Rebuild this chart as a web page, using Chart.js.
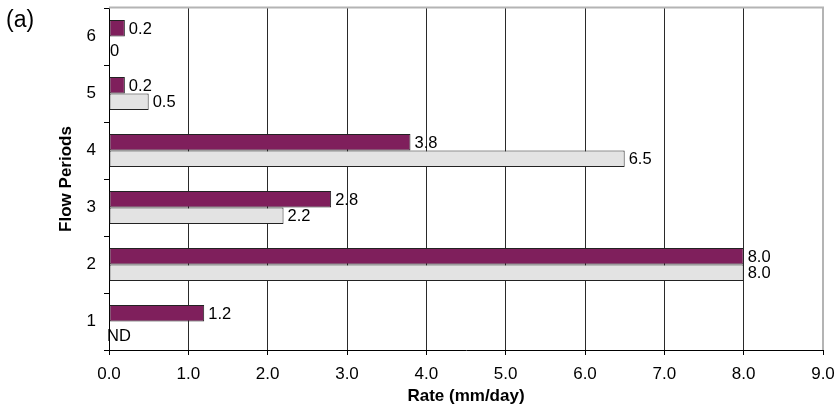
<!DOCTYPE html>
<html>
<head>
<meta charset="utf-8">
<script src="https://cdn.jsdelivr.net/npm/chart.js@4/dist/chart.umd.min.js"></script>
<style>
  html, body { margin: 0; padding: 0; background: #fff; }
  #wrap { width: 839px; height: 420px; position: relative; }
</style>
</head>
<body>
<div id="wrap"><canvas id="c" width="839" height="420"></canvas></div>
<script>
// Flow periods, bottom (1) to top (6)
const periods = ['1', '2', '3', '4', '5', '6'];
// Series A (purple) rates, mm/day
const seriesA = [1.2, 8.0, 2.8, 3.8, 0.2, 0.2];
const labelsA = ['1.2', '8.0', '2.8', '3.8', '0.2', '0.2'];
// Series B (light grey) rates, mm/day (null = not determined)
const seriesB = [null, 8.0, 2.2, 6.5, 0.5, 0];
const labelsB = ['ND', '8.0', '2.2', '6.5', '0.5', '0'];
// x-axis ticks
const xTicks = [0, 1, 2, 3, 4, 5, 6, 7, 8, 9];

// category axis runs top to bottom, so feed it from 6 down to 1
const cats = periods.slice().reverse();
const dataA = seriesA.slice().reverse();
const dataB = seriesB.slice().reverse();
const labA = labelsA.slice().reverse();
const labB = labelsB.slice().reverse();

const FONT = "'Liberation Sans', Arial, sans-serif";

function zeroPad(scale) {
  scale.paddingTop = 0; scale.paddingBottom = 0;
  scale.paddingLeft = 0; scale.paddingRight = 0;
}

const extras = {
  id: 'extras',
  afterDatasetsDraw(chart) {
    const ctx = chart.ctx;
    const xs = chart.scales.x;
    const sets = [[dataA, labA], [dataB, labB]];
    ctx.save();
    ctx.font = '16.5px ' + FONT;
    ctx.fillStyle = '#000';
    ctx.textAlign = 'left';
    ctx.textBaseline = 'middle';
    sets.forEach(([vals, labs], di) => {
      const meta = chart.getDatasetMeta(di);
      meta.data.forEach((el, i) => {
        const v = vals[i];
        const y = el.y;
        if (v === null || v === 0) {
          const x0 = xs.getPixelForValue(0);
          ctx.fillText(labs[i], v === null ? x0 - 2 : x0 + 1, y + 7);
        } else {
          ctx.fillText(labs[i], xs.getPixelForValue(v) + 4, y + 1);
        }
      });
    });
    ctx.restore();
  },
  afterDraw(chart) {
    const ctx = chart.ctx;
    const a = chart.chartArea;
    ctx.save();
    ctx.strokeStyle = '#b4b4b4';
    ctx.lineWidth = 2;
    ctx.beginPath();
    ctx.moveTo(a.left, a.top - 0.5);
    ctx.lineTo(a.right, a.top - 0.5);
    ctx.lineTo(a.right, a.bottom);
    ctx.stroke();
    ctx.font = '23px ' + FONT;
    ctx.fillStyle = '#000';
    ctx.textAlign = 'left';
    ctx.textBaseline = 'middle';
    ctx.fillText('(a)', 6, 21);
    ctx.restore();
  }
};

new Chart(document.getElementById('c'), {
  type: 'bar',
  data: {
    labels: cats,
    datasets: [
      {
        data: dataA,
        backgroundColor: '#7f1f5c',
        borderColor: '#222',
        borderWidth: 1,
        borderSkipped: false,
        categoryPercentage: 0.58,
        barPercentage: 1.0
      },
      {
        data: dataB,
        backgroundColor: '#e3e3e3',
        borderColor: '#222',
        borderWidth: 1,
        borderSkipped: false,
        categoryPercentage: 0.58,
        barPercentage: 1.0
      }
    ]
  },
  options: {
    indexAxis: 'y',
    responsive: false,
    animation: false,
    events: [],
    layout: { padding: { top: 8, right: 16, left: 0, bottom: 0 } },
    plugins: { legend: { display: false }, tooltip: { enabled: false } },
    scales: {
      x: {
        type: 'linear',
        min: xTicks[0],
        max: xTicks[xTicks.length - 1],
        afterBuildTicks(scale) { scale.ticks = xTicks.map(v => ({ value: v })); },
        afterFit(scale) { scale.height = 70; zeroPad(scale); },
        ticks: {
          font: { family: FONT, size: 17 },
          color: '#000',
          padding: 9,
          callback: v => Number(v).toFixed(1)
        },
        grid: {
          color: ctx => (ctx.tick && ctx.tick.value === 9) ? 'rgba(0,0,0,0)' : '#2a2a2a',
          lineWidth: 1,
          drawTicks: true,
          tickLength: 5,
          tickColor: '#000'
        },
        border: { display: true, color: '#000', width: 1 },
        title: {
          display: true,
          text: 'Rate (mm/day)',
          font: { family: FONT, size: 17, weight: 'bold' },
          color: '#000',
          padding: { top: 0, bottom: 13 }
        }
      },
      y: {
        afterFit(scale) { scale.width = 109; zeroPad(scale); },
        ticks: {
          font: { family: FONT, size: 17 },
          color: '#000',
          padding: 8
        },
        grid: {
          drawOnChartArea: false,
          drawTicks: true,
          tickLength: 5,
          tickColor: '#000',
          offset: true
        },
        border: { display: true, color: '#000', width: 1 },
        title: {
          display: true,
          text: 'Flow Periods',
          font: { family: FONT, size: 17, weight: 'bold' },
          color: '#000',
          padding: { top: 56, bottom: 0 }
        }
      }
    }
  },
  plugins: [extras]
});
</script>
</body>
</html>
